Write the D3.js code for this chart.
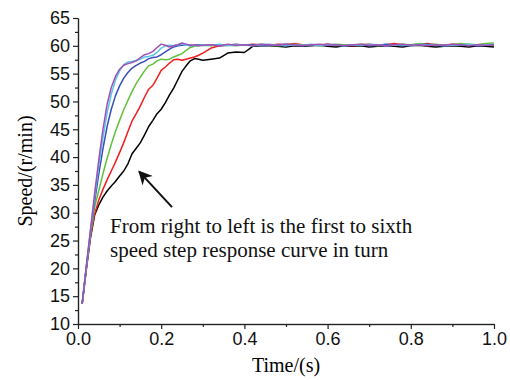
<!DOCTYPE html>
<html>
<head>
<meta charset="utf-8">
<script src="https://cdn.jsdelivr.net/npm/d3@7"></script>
<style>
  body { margin: 0; background: #fff; }
</style>
</head>
<body>
<div id="chart"></div>
<script>
const w = 510;
const h = 380;

// time samples (s): fine step during the rise, coarser on the plateau
const time = [
  0.01, 0.02, 0.03, 0.04, 0.05, 0.06, 0.07, 0.08, 0.09, 0.10,
  0.11, 0.12, 0.13, 0.14, 0.15, 0.16, 0.17, 0.18, 0.19, 0.20,
  0.21, 0.22, 0.23, 0.24, 0.25, 0.26, 0.27, 0.28, 0.29, 0.30,
  0.32, 0.34, 0.36, 0.38, 0.40, 0.42, 0.44, 0.46, 0.48, 0.50,
  0.52, 0.54, 0.56, 0.58, 0.60, 0.62, 0.64, 0.66, 0.68, 0.70,
  0.72, 0.74, 0.76, 0.78, 0.80, 0.82, 0.84, 0.86, 0.88, 0.90,
  0.92, 0.94, 0.96, 0.98, 1.00
];

const speed1 = [
  13.6, 19.8, 25.5, 29.6, 31.4, 32.8, 33.9, 34.8, 35.6, 36.6,
  37.5, 38.8, 40.6, 41.6, 42.6, 44.0, 45.5, 46.6, 47.8, 48.6,
  49.8, 51.2, 52.4, 53.9, 55.4, 56.4, 57.3, 57.7, 57.6, 57.4,
  57.6, 57.8, 58.7, 58.9, 58.8, 59.9, 60.0, 60.0, 59.9, 59.8,
  60.0, 59.9, 60.0, 60.1, 59.9, 59.8, 60.0, 59.9, 60.0, 59.8,
  59.9, 60.0, 59.9, 59.8, 60.0, 60.1, 59.9, 59.8, 59.9, 60.0,
  59.9, 59.8, 60.0, 59.9, 59.8
];
const speed2 = [
  13.6, 20.0, 25.8, 29.8, 32.3, 34.2, 35.9, 37.5, 39.1, 40.8,
  42.6, 44.6, 46.5, 47.8, 49.2, 50.8, 52.2, 52.9, 54.2, 55.6,
  56.2, 56.9, 57.5, 57.6, 57.4, 57.6, 57.8, 58.0, 58.3, 58.7,
  59.6, 60.0, 60.1, 60.2, 60.1, 60.3, 60.2, 60.1, 60.3, 60.2,
  60.4, 60.2, 60.1, 60.2, 60.3, 60.1, 60.2, 60.0, 60.2, 60.3,
  60.1, 60.2, 60.4, 60.2, 60.1, 60.3, 60.4, 60.2, 60.1, 60.3,
  60.2, 60.1, 60.2, 60.3, 60.2
];
const speed3 = [
  13.6, 20.1, 26.0, 31.0, 34.0, 37.0, 39.8, 42.3, 44.6, 46.6,
  48.5, 50.2, 51.8, 53.2, 54.4, 55.5, 56.4, 56.7, 57.3, 57.6,
  57.5, 57.6, 58.0, 58.3, 58.6, 59.2, 59.7, 59.9, 60.0, 60.1,
  60.0, 60.2, 60.1, 60.0, 60.2, 60.1, 60.3, 60.1, 60.0, 60.2,
  60.3, 60.1, 60.2, 60.0, 60.1, 60.3, 60.2, 60.1, 60.3, 60.2,
  60.0, 60.2, 60.1, 60.3, 60.2, 60.4, 60.2, 60.3, 60.1, 60.2,
  60.4, 60.3, 60.2, 60.4, 60.5
];
const speed4 = [
  13.6, 20.2, 26.4, 32.0, 37.0, 41.5, 45.5, 48.6, 51.0, 52.8,
  54.2, 55.2, 56.0, 56.5, 56.9, 57.2, 57.7, 57.9, 58.0, 58.4,
  58.9, 59.4, 59.8, 60.0, 60.1, 60.2, 60.0, 60.1, 60.2, 60.1,
  60.2, 60.0, 60.1, 60.3, 60.1, 60.2, 60.0, 60.1, 60.2, 60.3,
  60.1, 60.0, 60.2, 60.1, 60.3, 60.2, 60.0, 60.1, 60.2, 60.0,
  60.1, 60.3, 60.2, 60.0, 60.1, 60.2, 60.3, 60.1, 60.0, 60.2,
  60.1, 60.2, 60.0, 60.1, 60.2
];
const speed5 = [
  13.6, 20.3, 26.7, 32.8, 38.5, 43.5, 48.0, 51.3, 53.8, 55.5,
  56.6, 57.1, 57.2, 57.4, 57.6, 58.0, 58.1, 58.3, 58.8, 59.6,
  60.0, 60.1, 60.0, 60.2, 60.3, 60.1, 60.2, 60.0, 60.1, 60.2,
  60.1, 60.3, 60.0, 60.2, 60.1, 60.0, 60.2, 60.3, 60.1, 60.0,
  60.2, 60.1, 60.3, 60.0, 60.2, 60.1, 60.0, 60.2, 60.1, 60.3,
  60.2, 60.0, 60.1, 60.2, 60.0, 60.3, 60.1, 60.2, 60.0, 60.1,
  60.2, 60.3, 60.1, 60.2, 60.3
];
const speed6 = [
  13.6, 20.4, 27.0, 33.5, 39.5, 45.0, 49.5, 52.5, 54.5, 55.8,
  56.5, 56.8, 57.0, 57.3, 57.9, 58.4, 58.6, 59.0, 59.7, 60.3,
  60.1, 59.8, 60.0, 60.2, 60.5, 60.3, 60.1, 60.2, 60.0, 60.1,
  60.2, 60.0, 60.3, 60.1, 60.2, 60.0, 60.3, 60.2, 60.1, 60.3,
  60.2, 60.0, 60.2, 60.3, 60.1, 60.2, 60.0, 60.2, 60.3, 60.1,
  60.2, 60.0, 60.2, 60.3, 60.1, 60.2, 60.0, 60.2, 60.1, 60.3,
  60.2, 60.0, 60.2, 60.1, 60.2
];

const seriesList = [speed1, speed2, speed3, speed4, speed5, speed6];
const colors = ['#000000', '#f41d1d', '#62c13b', '#3a4fb8', '#55c8e6', '#a24fb5'];

const xTicks = [0.0, 0.2, 0.4, 0.6, 0.8, 1.0];
const xMinor = [0.1, 0.3, 0.5, 0.7, 0.9];
const yTicks = [10, 15, 20, 25, 30, 35, 40, 45, 50, 55, 60, 65];
const yMinor = [12.5, 17.5, 22.5, 27.5, 32.5, 37.5, 42.5, 47.5, 52.5, 57.5, 62.5];

const noteLines = ['From right to left is the first to sixth',
                   'speed step response curve in turn'];

const svg = d3.select('#chart')
  .append('svg')
  .attr('width', w)
  .attr('height', h);

const xScale = d3.scaleLinear().domain([0, 1]).range([78, 494]);
const yScale = d3.scaleLinear().domain([10, 65]).range([324, 18]);

// curves
const line = d3.line()
  .x(function(d, i) { return xScale(time[i]); })
  .y(function(d) { return yScale(d); });

svg.selectAll('path.curve')
  .data(seriesList)
  .enter()
  .append('path')
  .attr('class', 'curve')
  .attr('d', line)
  .attr('fill', 'none')
  .attr('stroke', function(d, i) { return colors[i]; })
  .attr('stroke-width', 1.5)
  .attr('stroke-linejoin', 'round');

// axes
const xAxis = d3.axisBottom(xScale)
  .tickValues(xTicks)
  .tickFormat(d3.format('.1f'))
  .tickSizeInner(5)
  .tickSizeOuter(0)
  .tickPadding(3);
const xAxisMinor = d3.axisBottom(xScale)
  .tickValues(xMinor)
  .tickFormat('')
  .tickSizeInner(3)
  .tickSizeOuter(0);
const yAxis = d3.axisLeft(yScale)
  .tickValues(yTicks)
  .tickSizeInner(5)
  .tickSizeOuter(0)
  .tickPadding(3);
const yAxisMinor = d3.axisLeft(yScale)
  .tickValues(yMinor)
  .tickFormat('')
  .tickSizeInner(3)
  .tickSizeOuter(0);

const gx = svg.append('g')
  .attr('transform', 'translate(0,' + yScale(10) + ')')
  .call(xAxis);
svg.append('g')
  .attr('transform', 'translate(0,' + yScale(10) + ')')
  .call(xAxisMinor);
const gy = svg.append('g')
  .attr('transform', 'translate(' + xScale(0) + ',0)')
  .call(yAxis);
svg.append('g')
  .attr('transform', 'translate(' + xScale(0) + ',0)')
  .call(yAxisMinor);

svg.selectAll('.domain, .tick line')
  .attr('stroke', '#222')
  .attr('stroke-width', 1.2);
gx.select('.domain').attr('stroke', '#555').attr('stroke-width', 1.6);
svg.selectAll('.tick text')
  .attr('font-family', 'Liberation Sans, Arial, sans-serif')
  .attr('font-size', '18px')
  .attr('fill', '#111');

// axis titles
svg.append('text')
  .attr('x', (xScale(0) + xScale(1)) / 2)
  .attr('y', 372)
  .attr('text-anchor', 'middle')
  .attr('font-family', 'Liberation Serif, Times New Roman, serif')
  .attr('font-size', '20px')
  .text('Time/(s)');

svg.append('text')
  .attr('transform', 'translate(32,' + yScale(37.5) + ') rotate(-90)')
  .attr('text-anchor', 'middle')
  .attr('font-family', 'Liberation Serif, Times New Roman, serif')
  .attr('font-size', '20px')
  .text('Speed/(r/min)');

// annotation arrow
const arrowTip = [0.147, 37.4];
const arrowTail = [0.226, 31.0];
svg.append('defs').append('marker')
  .attr('id', 'head')
  .attr('viewBox', '0 0 10 10')
  .attr('refX', 9)
  .attr('refY', 5)
  .attr('markerWidth', 8)
  .attr('markerHeight', 7)
  .attr('markerUnits', 'strokeWidth')
  .attr('orient', 'auto')
  .append('path')
  .attr('d', 'M0,0 L10,5 L0,10 L3,5 Z')
  .attr('fill', '#111');

svg.append('line')
  .attr('x1', xScale(arrowTail[0]))
  .attr('y1', yScale(arrowTail[1]))
  .attr('x2', xScale(arrowTip[0]))
  .attr('y2', yScale(arrowTip[1]))
  .attr('stroke', '#111')
  .attr('stroke-width', 2)
  .attr('marker-end', 'url(#head)');

svg.selectAll('text.note')
  .data(noteLines)
  .enter()
  .append('text')
  .attr('class', 'note')
  .attr('x', xScale(0.077))
  .attr('y', function(d, i) { return 233 + i * 24; })
  .attr('font-family', 'Liberation Serif, Times New Roman, serif')
  .attr('font-size', '21px')
  .attr('fill', '#111')
  .text(function(d) { return d; });
</script>
</body>
</html>
